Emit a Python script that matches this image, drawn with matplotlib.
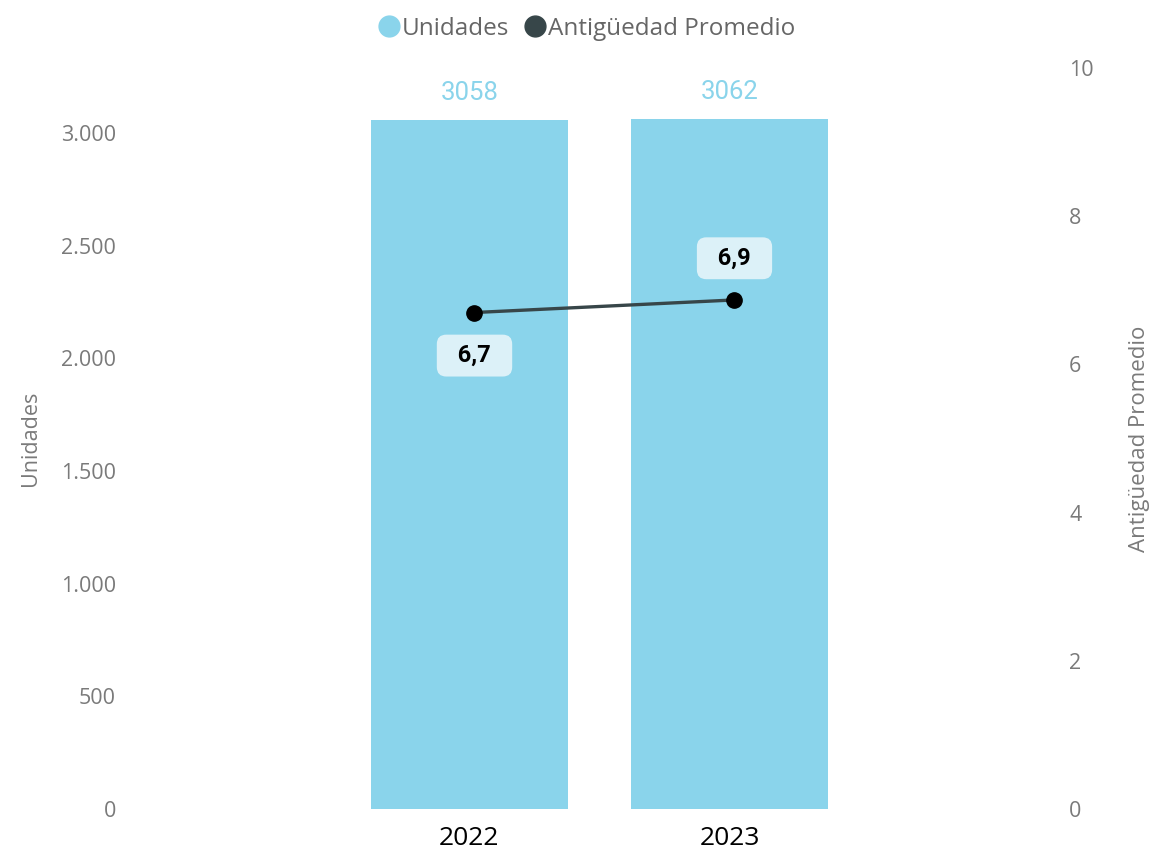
import numpy as np
import matplotlib.pyplot as plt
from matplotlib.ticker import FuncFormatter
from matplotlib.lines import Line2D

plt.rcParams['font.family'] = ['Open Sans', 'DejaVu Sans']

# datos
years = ["2022", "2023"]
unidades = [3058, 3062]
antiguedad = [6.7, 6.87]

bar_color = "#8AD4EB"
line_color = "#374649"
grey = "#7A7A7A"

W, H = 1155, 850
fig = plt.figure(figsize=(W / 100, H / 100), dpi=100)

# area del grafico en pixeles
left_px, right_px, top_px, bottom_px = 130, 1065, 68, 809
ax = fig.add_axes([left_px / W, 1 - bottom_px / H,
                   (right_px - left_px) / W, (bottom_px - top_px) / H])
ax2 = ax.twinx()

x = np.arange(len(years))
step = 260  # px entre categorias
ax.set_xlim(-(469.5 - left_px) / step, 1 + (right_px - 729.5) / step)
ax.set_ylim(0, 3288.5)
ax2.set_ylim(0, 10)

ax.bar(x, unidades, width=197 / step, color=bar_color, zorder=1)
for xi, v in zip(x, unidades):
    ax.annotate(str(v), (xi, v), xytext=(0, 19.5), textcoords="offset points",
                ha="center", va="center", color=bar_color, fontsize=18.5,
                fontfamily="Roboto")

# la linea en el original va un poco desplazada a la derecha
xl = x + 5 / step
ax2.plot(xl, antiguedad, color=line_color, lw=2.4, zorder=3)
ax2.plot(xl, antiguedad, "o", color="black", ms=11, zorder=4)
offsets = [-31, 30]
for xi, v, off in zip(xl, antiguedad, offsets):
    ax2.annotate("  " + f"{v:.1f}".replace(".", ",") + "  ", (xi, v), xytext=(0, off),
                 textcoords="offset points", ha="center", va="center",
                 fontsize=17, fontweight="bold", color="black", fontfamily="Roboto",
                 bbox=dict(boxstyle="round,pad=0.4,rounding_size=0.4",
                           fc="#DCF1F8", ec="none"))

ax.set_zorder(ax2.get_zorder() - 1)
ax2.patch.set_visible(False)

ax.set_yticks(np.arange(0, 3001, 500))
ax.yaxis.set_major_formatter(FuncFormatter(lambda v, p: f"{int(v):,}".replace(",", ".")))
ax2.set_yticks(np.arange(0, 11, 2))
ax.set_xticks(x)
ax.set_xticklabels(years, fontsize=19, color="black")

for a in (ax, ax2):
    for s in a.spines.values():
        s.set_visible(False)
    a.tick_params(length=0)
ax.tick_params(axis="y", labelsize=15.5, labelcolor=grey, pad=10)
ax2.tick_params(axis="y", labelsize=15.5, labelcolor=grey, pad=3)
ax.tick_params(axis="x", pad=12)

ax.set_ylabel("Unidades", fontsize=15.5, color=grey, va="center")
ax2.set_ylabel("Antigüedad Promedio", fontsize=16, color=grey, va="center")
ax.yaxis.set_label_coords((30 - left_px) / (right_px - left_px), 0.5)
ax2.yaxis.set_label_coords((1140 - left_px) / (right_px - left_px), 0.5)

handles = [Line2D([], [], marker="o", ls="", color=bar_color, ms=15),
           Line2D([], [], marker="o", ls="", color=line_color, ms=15)]
leg = fig.legend(handles, ["Unidades", "Antigüedad Promedio"], loc="upper center",
                 bbox_to_anchor=(0.507, 1.006), ncol=2, frameon=False, fontsize=17.5,
                 handletextpad=0.0, columnspacing=0.5, handlelength=1.1)
for t in leg.get_texts():
    t.set_color("#666666")

fig.savefig("out.png", dpi=100)
